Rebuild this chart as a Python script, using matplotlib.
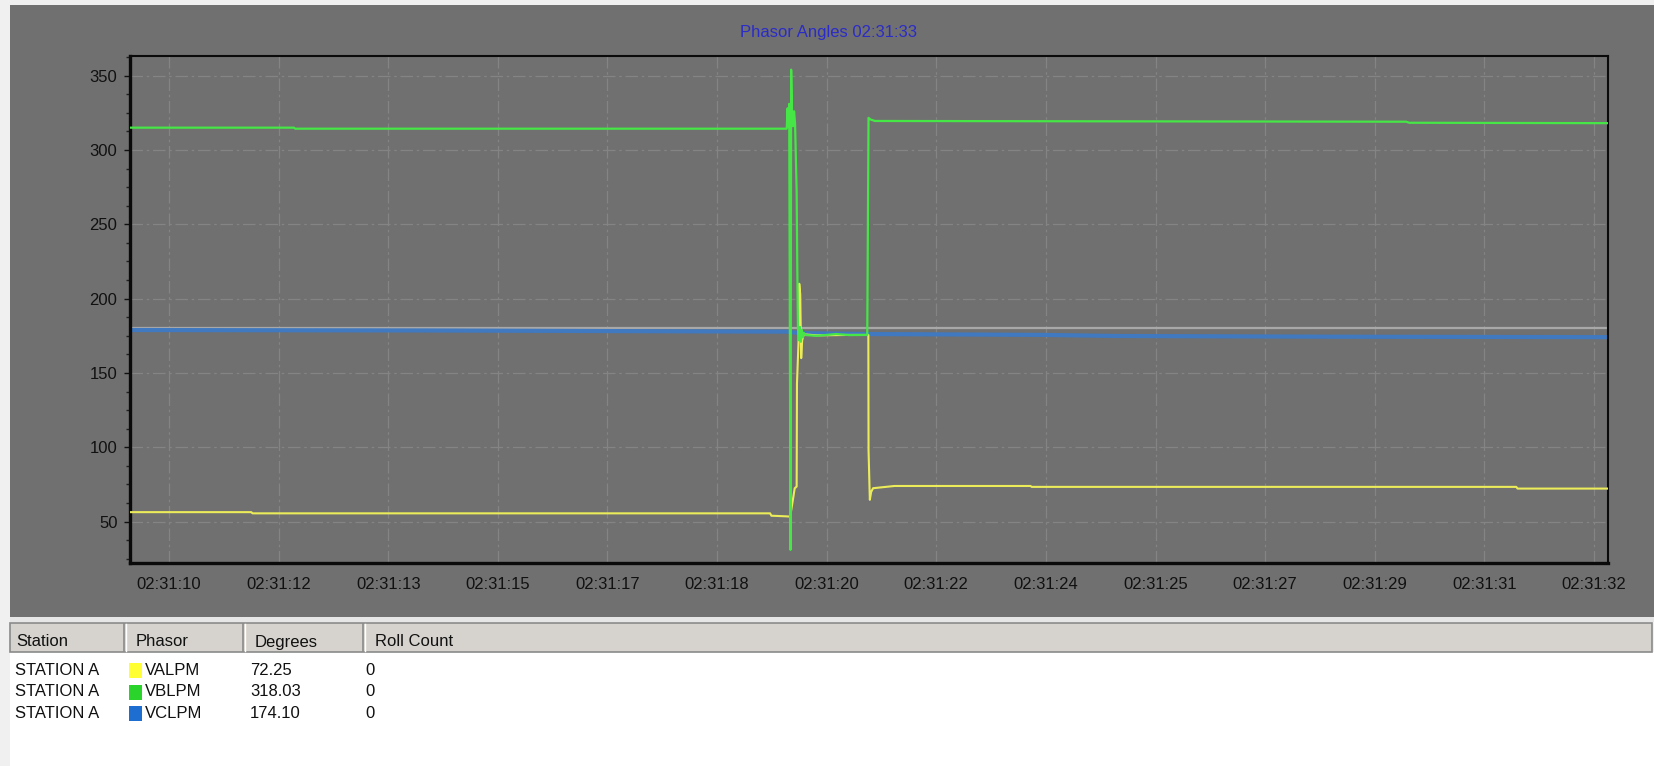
import matplotlib
matplotlib.use("Agg")

import matplotlib.pyplot as plt
import numpy as np
from matplotlib.patches import Rectangle

# =====================================================
# Data - phasor angles in degrees, time in seconds after 02:31:00
# =====================================================

title_text = "Phasor Angles 02:31:33"

tick_labels = [
    "02:31:10", "02:31:12", "02:31:13", "02:31:15", "02:31:17",
    "02:31:18", "02:31:20", "02:31:22", "02:31:24", "02:31:25",
    "02:31:27", "02:31:29", "02:31:31", "02:31:32",
]

# VALPM (yellow)
va_time = [9.40, 11.27, 11.29, 19.28, 19.30, 19.52, 19.59, 19.64, 19.66,
           19.69, 19.695, 19.72, 19.73, 19.745, 19.76, 19.775, 19.80,
           20.00, 20.50, 20.797, 20.80, 20.82, 20.84, 20.87, 21.20,
           23.30, 23.32, 30.80, 30.82, 32.22]
va_angle = [56.4, 56.4, 55.6, 55.6, 54.0, 53.6, 53.4, 66.9, 72.5,
            73.6, 143.0, 172.0, 210.0, 203.0, 160.0, 172.0, 176.0,
            175.3, 175.6, 175.6, 98.0, 64.7, 70.0, 72.5, 74.0,
            74.0, 73.4, 73.4, 72.25, 72.25]

# VBLPM (green)
vb_time = [9.40, 11.93, 11.95, 19.537, 19.55, 19.56, 19.575, 19.595,
           19.605, 19.62, 19.635, 19.65, 19.665, 19.675, 19.69, 19.70,
           19.71, 19.725, 19.74, 19.755, 19.77, 19.785, 19.80, 19.83,
           20.00, 20.30, 20.50, 20.78, 20.79, 20.80, 20.83, 20.90,
           24.00, 29.10, 29.15, 32.22]
vb_angle = [315.0, 315.0, 314.3, 314.3, 328.0, 316.0, 331.0, 31.0,
            354.0, 322.0, 316.0, 326.0, 318.0, 300.0, 272.0, 220.0,
            180.0, 172.0, 181.0, 171.0, 179.0, 174.0, 177.0, 175.5,
            175.0, 176.2, 175.5, 175.6, 250.0, 321.6, 320.5, 319.5,
            319.3, 319.0, 318.3, 318.03]

# VCLPM (blue)
vc_time = [9.40, 14.00, 19.53, 19.75, 20.80, 23.50, 24.60, 28.00, 32.22]
vc_angle = [178.9, 178.6, 177.8, 176.8, 176.2, 175.6, 174.9, 174.4, 174.10]

ref_angle = 180

stations = ["STATION A", "STATION A", "STATION A"]
phasors = ["VALPM", "VBLPM", "VCLPM"]
roll_counts = [0, 0, 0]
degrees = [va_angle[-1], vb_angle[-1], vc_angle[-1]]

# =====================================================
# Styles
# =====================================================

plt.rcParams["font.family"] = ["Liberation Sans", "DejaVu Sans"]

panel_gray = "#707070"
line_colors = ["#ecec5a", "#46e646", "#4079bf"]
swatch_colors = ["#ffff33", "#2bd42b", "#1e6ed2"]

W, H = 1654, 766

figure = plt.figure(figsize=(W / 100, H / 100), dpi=100)
figure.patch.set_facecolor("#f0f0f0")

# background layer in pixel units for the window panels and the table
bg = figure.add_axes([0, 0, 1, 1], zorder=0)
bg.set_xlim(0, W)
bg.set_ylim(H, 0)
bg.axis("off")

bg.add_patch(Rectangle((10, 4.6), W - 10, 612, facecolor=panel_gray, edgecolor="none"))
bg.add_patch(Rectangle((10, 616.7), W - 10, 5.3, facecolor="#e6e6e6", edgecolor="none"))
bg.add_patch(Rectangle((10, 652), W - 10, H - 652, facecolor="white", edgecolor="none"))
bg.add_patch(Rectangle((10, 622.5), W - 12, 29.5, facecolor="#d6d3ce",
                       edgecolor="#8a8a8a", linewidth=1.2))

for sep in [124, 243.3, 363.3]:
    bg.plot([sep, sep], [624, 651], color="#8a8a8a", linewidth=1.2)
    bg.plot([sep + 1.5, sep + 1.5], [624, 651], color="white", linewidth=1)

headers = ["Station", "Phasor", "Degrees", "Roll Count"]
header_x = [16, 136, 255, 375]
for x, text in zip(header_x, headers):
    bg.text(x, 642, text, fontsize=12, color="#111111", va="center", ha="left")

row_y = [670.5, 692, 713.5]
for i in range(len(stations)):
    y = row_y[i]
    bg.text(15, y, stations[i], fontsize=12, color="#111111", va="center")
    bg.add_patch(Rectangle((128.5, y - 7.5), 13, 15,
                           facecolor=swatch_colors[i], edgecolor="none"))
    bg.text(145, y, phasors[i], fontsize=12, color="#111111", va="center")
    bg.text(250, y, f"{degrees[i]:.2f}", fontsize=12, color="#111111", va="center")
    bg.text(365, y, str(roll_counts[i]), fontsize=12, color="#111111", va="center")

bg.text(828, 33, title_text, fontsize=12, color="#2b2bc8", ha="center", va="center")

# =====================================================
# Phasor angle plot
# =====================================================

axes = figure.add_axes([130 / W, 1 - 562.7 / H, 1478 / W, 507 / H], zorder=1)
axes.set_facecolor(panel_gray)

axes.axhline(ref_angle, color="#a8a8a8", linewidth=1.6, zorder=1)

axes.plot(vc_time, vc_angle, color=line_colors[2], linewidth=3.0, zorder=2)
axes.plot(va_time, va_angle, color=line_colors[0], linewidth=1.5, zorder=3)
axes.plot(vb_time, vb_angle, color=line_colors[1], linewidth=1.6, zorder=4)

axes.set_xlim(9.398, 32.216)
axes.set_ylim(22.4, 363.4)

axes.set_xticks(np.linspace(10, 32, len(tick_labels)))
axes.set_xticklabels(tick_labels)
axes.set_yticks([50, 100, 150, 200, 250, 300, 350])
axes.yaxis.set_minor_locator(matplotlib.ticker.MultipleLocator(12.5))

axes.tick_params(axis="x", length=0, pad=10.5, labelsize=12, labelcolor="#111111")
axes.tick_params(axis="y", which="major", length=4, width=1, pad=5,
                 labelsize=12, labelcolor="#111111", color="#111111")
axes.tick_params(axis="y", which="minor", length=3, width=1, color="#222222")

# faint dashed grid on the major ticks
axes.grid(True, which="major", color="#848484", linestyle=(0, (10, 3, 2, 3)),
          linewidth=0.9)
axes.set_axisbelow(True)

for side in ["left", "bottom"]:
    axes.spines[side].set_linewidth(2.4)
for side in ["top", "right"]:
    axes.spines[side].set_linewidth(1.5)
for side in axes.spines:
    axes.spines[side].set_color("#0a0a0a")

figure.savefig("out.png", dpi=100, facecolor=figure.get_facecolor())
